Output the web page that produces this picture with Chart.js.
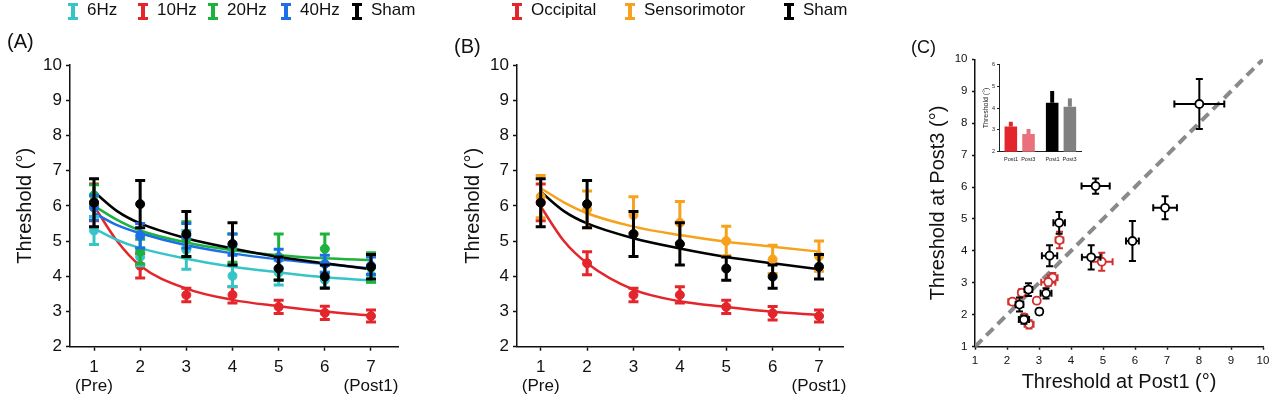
<!DOCTYPE html>
<html><head><meta charset="utf-8">
<script src="https://cdn.jsdelivr.net/npm/chart.js@4.4.0/dist/chart.umd.min.js"></script>
<style>
body{margin:0;background:#fff;font-family:'Liberation Sans',Arial,Helvetica,sans-serif;color:#111}
#wrap{position:relative;width:1269px;height:401px;overflow:hidden;background:#fff}
canvas{position:absolute}
.lab{position:absolute;white-space:nowrap}
.legtxt{position:absolute;top:0;font-size:17px;line-height:20px;white-space:nowrap}
.ico{position:absolute;top:3px;width:10px;height:17px;box-sizing:border-box;border-top:3px solid;border-bottom:3px solid}
.ico i{position:absolute;left:3px;top:0;bottom:0;width:4px}
</style></head>
<body><div id="wrap">
<canvas id="cA" width="420" height="401" style="left:0;top:0"></canvas>
<canvas id="cB" width="420" height="401" style="left:440px;top:0"></canvas>
<canvas id="cC" width="389" height="401" style="left:880px;top:0"></canvas>
<canvas id="cI" width="115" height="120" style="left:970px;top:55px"></canvas>
<div class="lab" style="left:7px;top:29px;font-size:20px;line-height:24px">(A)</div>
<div class="lab" style="left:454px;top:34px;font-size:20px;line-height:24px">(B)</div>
<div class="lab" style="left:911px;top:36px;font-size:18px;line-height:22px">(C)</div>
</div>
<script>
// ---------------- DATA ----------------
const sessions = [1, 2, 3, 4, 5, 6, 7];
const sessionLabels = [['1', '(Pre)'], '2', '3', '4', '5', '6', ['7', '(Post1)']];
const fitX = [1, 1.5, 2, 3, 4, 5, 6, 7];

const hz6Mean = [5.3, 4.55, 4.75, 4.01, 4.1, 3.9, 4.04];
const hz6Err  = [0.4, 0.25, 0.55, 0.3, 0.35, 0.22, 0.2];
const hz6Fit  = [5.36, 5.03, 4.8, 4.5, 4.27, 4.11, 3.97, 3.88];

const hz10Mean = [6.1, 4.3, 3.47, 3.47, 3.13, 2.96, 2.87];
const hz10Err  = [0.52, 0.35, 0.19, 0.23, 0.19, 0.19, 0.17];
const hz10Fit  = [6.0, 5.0, 4.3, 3.65, 3.33, 3.15, 3.0, 2.88];

const hz20Mean = [6.3, 4.7, 5.05, 4.8, 4.55, 4.78, 4.25];
const hz20Err  = [0.3, 0.35, 0.5, 0.4, 0.65, 0.42, 0.42];
const hz20Fit  = [6.0, 5.6, 5.3, 4.96, 4.74, 4.6, 4.51, 4.46];

const hz40Mean = [5.95, 5.15, 5.15, 4.9, 4.5, 4.35, 4.3];
const hz40Err  = [0.35, 0.35, 0.35, 0.3, 0.27, 0.25, 0.25];
const hz40Fit  = [5.8, 5.45, 5.22, 4.88, 4.65, 4.48, 4.35, 4.22];

const shamMean = [6.09, 6.05, 5.2, 4.92, 4.22, 3.99, 4.27];
const shamErr  = [0.68, 0.67, 0.64, 0.6, 0.33, 0.33, 0.35];
const shamFit  = [6.4, 5.85, 5.5, 5.08, 4.79, 4.55, 4.37, 4.2];

const occMean = [6.1, 4.37, 3.47, 3.47, 3.13, 2.95, 2.87];
const occErr  = [0.52, 0.33, 0.19, 0.23, 0.19, 0.19, 0.17];
const occFit  = [5.98, 5.0, 4.37, 3.62, 3.29, 3.13, 2.99, 2.9];

const smMean = [6.26, 5.9, 5.74, 5.52, 5.0, 4.48, 4.57];
const smErr  = [0.6, 0.52, 0.52, 0.6, 0.42, 0.4, 0.43];
const smFit  = [6.5, 6.1, 5.79, 5.41, 5.17, 4.98, 4.84, 4.7];

// Panel C: individual thresholds Post1 (x) vs Post3 (y)
const shamPost1    = [8.01, 4.77, 6.94, 5.92, 3.63, 3.33, 4.63, 2.67, 3.22, 2.39, 3.01, 2.53];
const shamPost3    = [8.6, 6.03, 5.35, 4.31, 4.88, 3.85, 3.8, 2.79, 2.67, 2.32, 2.1, 1.85];
const shamPost1Err = [0.78, 0.44, 0.37, 0.2, 0.18, 0.24, 0.29, 0.12, 0.17, 0.12, 0.06, 0.16];
const shamPost3Err = [0.78, 0.24, 0.36, 0.63, 0.34, 0.33, 0.38, 0.2, 0.16, 0.22, 0.09, 0.13];
const occPost1    = [3.64, 3.43, 3.29, 2.46, 2.17, 2.93, 2.54, 2.69, 4.96];
const occPost3    = [4.34, 3.16, 3.02, 2.69, 2.41, 2.44, 1.92, 1.7, 3.66];
const occPost1Err = [0.12, 0.15, 0.22, 0.1, 0.13, 0.07, 0.08, 0.14, 0.34];
const occPost3Err = [0.26, 0.15, 0.12, 0.12, 0.09, 0.07, 0.1, 0.13, 0.28];
const identityRange = [1, 10];

// Inset: group means
const insetGroups = ['Occipital', 'Sham'];
const insetTickLabel = 'Post1  Post3';
const insetPost1 = [3.15, 4.24];
const insetPost1Err = [0.22, 0.54];
const insetPost3 = [2.81, 4.06];
const insetPost3Err = [0.23, 0.38];

// ---------------- STYLE ----------------
const C = {cyan:'#35c5c8', red:'#e3262c', green:'#1cb23c', blue:'#1c6fe6', black:'#000000', orange:'#f6a21c',
           redC:'#d2302f', pink:'#e9717d', gray:'#808080', axis:'#111'};
Chart.defaults.font.family = "'Liberation Sans', Arial, Helvetica, sans-serif";
Chart.defaults.color = '#111';
Chart.defaults.animation = false;

const errorBars = {
  id: 'errorBars',
  beforeDatasetDraw(chart, args) {
    const ds = chart.data.datasets[args.index];
    if (!ds.yErr && !ds.xErr) return;
    const xs = chart.scales.x, ys = chart.scales.y, ctx = chart.ctx;
    ctx.save();
    ctx.strokeStyle = ds.errColor; ctx.lineWidth = ds.errWidth; ctx.lineCap = 'butt';
    const h = ds.capHalf;
    ds.data.forEach((p, i) => {
      const px = xs.getPixelForValue(p.x), py = ys.getPixelForValue(p.y);
      ctx.beginPath();
      if (ds.yErr) {
        const y1 = ys.getPixelForValue(p.y + ds.yErr[i]), y2 = ys.getPixelForValue(p.y - ds.yErr[i]);
        ctx.moveTo(px, y1); ctx.lineTo(px, y2);
        ctx.moveTo(px - h, y1); ctx.lineTo(px + h, y1);
        ctx.moveTo(px - h, y2); ctx.lineTo(px + h, y2);
      }
      if (ds.xErr) {
        const x1 = xs.getPixelForValue(p.x - ds.xErr[i]), x2 = xs.getPixelForValue(p.x + ds.xErr[i]);
        ctx.moveTo(x1, py); ctx.lineTo(x2, py);
        ctx.moveTo(x1, py - h); ctx.lineTo(x1, py + h);
        ctx.moveTo(x2, py - h); ctx.lineTo(x2, py + h);
      }
      ctx.stroke();
    });
    ctx.restore();
  }
};

const upErrorBars = {
  id: 'upErrorBars',
  afterDatasetDraw(chart, args) {
    const ds = chart.data.datasets[args.index];
    if (!ds.upErr) return;
    const ys = chart.scales.y, ctx = chart.ctx;
    ctx.save(); ctx.lineWidth = 4;
    args.meta.data.forEach((bar, i) => {
      ctx.strokeStyle = ds.backgroundColor[i];
      ctx.beginPath();
      ctx.moveTo(bar.x, ys.getPixelForValue(ds.data[i]));
      ctx.lineTo(bar.x, ys.getPixelForValue(ds.data[i] + ds.upErr[i]));
      ctx.stroke();
    });
    ctx.restore();
  }
};

const tickGrid = (len) => ({drawOnChartArea:false, drawTicks:true, tickLength:len, tickColor:C.axis, tickWidth:1.5});
const border = {display:true, color:C.axis, width:1.5};

function timeChart(id, series, xMin, xMax, yW, padR, titlePad) {
  const datasets = [];
  series.forEach((s, k) => {
    datasets.push({data: fitX.map((x, i) => ({x, y: s.fit[i]})), showLine:true, borderColor:s.color,
      borderWidth:2.5, pointRadius:0, cubicInterpolationMode:'monotone', order:200 - k});
    datasets.push({data: sessions.map((x, i) => ({x, y: s.mean[i]})), showLine:false, backgroundColor:s.color,
      borderColor:s.color, pointRadius:4.5, pointBorderWidth:1, yErr:s.err, errColor:s.color, errWidth:3,
      capHalf:5, order:100 - k});
  });
  return new Chart(document.getElementById(id), {
    type:'scatter',
    data:{datasets},
    plugins:[errorBars],
    options:{
      responsive:false, animation:false,
      layout:{padding:{top:65, right:padR, left:0, bottom:0}},
      plugins:{legend:{display:false}, tooltip:{enabled:false}},
      scales:{
        x:{type:'linear', min:xMin, max:xMax,
           afterBuildTicks(s){ s.ticks = sessions.map(v => ({value:v})); },
           ticks:{font:{size:17, lineHeight:1.1}, padding:7.5, maxRotation:0, autoSkip:false, color:'#111',
                  callback(v){ return sessionLabels[sessions.indexOf(v)]; }},
           grid:tickGrid(4), border,
           afterFit(s){ s.height = 54.3; }},
        y:{min:2, max:10,
           ticks:{stepSize:1, font:{size:17}, padding:4, color:'#111'},
           grid:tickGrid(4), border,
           title:{display:true, text:'Threshold (°)', font:{size:20}, color:'#111', padding:{top:titlePad, bottom:0}},
           afterFit(s){ s.width = yW; }}
      }
    }
  });
}

timeChart('cA', [
  {mean:hz10Mean, err:hz10Err, fit:hz10Fit, color:C.red},
  {mean:hz6Mean, err:hz6Err, fit:hz6Fit, color:C.cyan},
  {mean:hz20Mean, err:hz20Err, fit:hz20Fit, color:C.green},
  {mean:hz40Mean, err:hz40Err, fit:hz40Fit, color:C.blue},
  {mean:shamMean, err:shamErr, fit:shamFit, color:C.black}
], 0.48, 7.585, 70, 22, 13);

timeChart('cB', [
  {mean:occMean, err:occErr, fit:occFit, color:C.red},
  {mean:smMean, err:smErr, fit:smFit, color:C.orange},
  {mean:shamMean, err:shamErr, fit:shamFit, color:C.black}
], 0.489, 7.517, 77, 17, 21.5);

// Panel C
new Chart(document.getElementById('cC'), {
  type:'scatter',
  data:{datasets:[
    {data: identityRange.map(v => ({x:v, y:v})), showLine:true, borderColor:'#8a8a8a', borderWidth:4,
     borderDash:[10,6], pointRadius:0, order:100},
    {data: occPost1.map((x, i) => ({x, y:occPost3[i]})), showLine:false, backgroundColor:'#fff',
     borderColor:C.redC, pointRadius:4, pointBorderWidth:1.8, xErr:occPost1Err, yErr:occPost3Err,
     errColor:C.redC, errWidth:2, capHalf:3.5, order:20},
    {data: shamPost1.map((x, i) => ({x, y:shamPost3[i]})), showLine:false, backgroundColor:'#fff',
     borderColor:'#000', pointRadius:4, pointBorderWidth:1.8, xErr:shamPost1Err, yErr:shamPost3Err,
     errColor:'#000', errWidth:2, capHalf:3.5, order:10}
  ]},
  plugins:[errorBars],
  options:{
    responsive:false, animation:false,
    layout:{padding:{top:59.3, right:6, left:0, bottom:0}},
    plugins:{legend:{display:false}, tooltip:{enabled:false}},
    scales:{
      x:{type:'linear', min:1, max:10, ticks:{stepSize:1, font:{size:11.5}, padding:4, maxRotation:0, color:'#111'},
         grid:tickGrid(3), border,
         title:{display:true, text:'Threshold at Post1 (°)', font:{size:20}, color:'#111', padding:{top:0, bottom:7}},
         afterFit(s){ s.height = 54.3; s.paddingRight = 0; s.paddingLeft = 0; }},
      y:{min:1, max:10, ticks:{stepSize:1, font:{size:11.5}, padding:4.5, color:'#111'},
         grid:tickGrid(3), border,
         title:{display:true, text:'Threshold at Post3 (°)', font:{size:20}, color:'#111', padding:{top:46, bottom:0}},
         afterFit(s){ s.width = 95; }}
    }
  }
});

// Inset
new Chart(document.getElementById('cI'), {
  type:'bar',
  data:{labels:insetGroups, datasets:[
    {label:'Post1', data:insetPost1, upErr:insetPost1Err, backgroundColor:[C.red, '#000'],
     categoryPercentage:0.856, barPercentage:0.71},
    {label:'Post3', data:insetPost3, upErr:insetPost3Err, backgroundColor:[C.pink, C.gray],
     categoryPercentage:0.856, barPercentage:0.71}
  ]},
  plugins:[upErrorBars],
  options:{
    responsive:false, animation:false,
    layout:{padding:{top:9.3, right:3.3, left:0, bottom:0}},
    plugins:{legend:{display:false}, tooltip:{enabled:false}},
    scales:{
      x:{ticks:{font:{size:5.5}, padding:4, color:'#222', callback(){ return insetTickLabel; }},
         grid:{drawOnChartArea:false, drawTicks:false}, border:{display:true, color:'#222', width:1},
         afterFit(s){ s.height = 23.3; }},
      y:{min:2, max:6, ticks:{stepSize:1, font:{size:5.5}, padding:2, color:'#222'},
         grid:{drawOnChartArea:false, drawTicks:true, tickLength:2, tickColor:'#222', tickWidth:1},
         border:{display:true, color:'#222', width:1},
         title:{display:true, text:'Threshold (°)', font:{size:7}, color:'#222', padding:{top:11.8, bottom:0}},
         afterFit(s){ s.width = 29; }}
    }
  }
});

// Legends (HTML)
const legendA = {names:['6Hz','10Hz','20Hz','40Hz','Sham'], colors:[C.cyan, C.red, C.green, C.blue, C.black], at:[73,143,213,286,357]};
const legendB = {names:['Occipital','Sensorimotor','Sham'], colors:[C.red, C.orange, C.black], at:[517,630,789]};
const wrap = document.getElementById('wrap');
[legendA, legendB].forEach(L => {
  L.names.forEach((n, i) => {
    const ico = document.createElement('div');
    ico.className = 'ico';
    ico.style.left = (L.at[i] - 5) + 'px';
    ico.style.borderColor = L.colors[i];
    const bar = document.createElement('i');
    bar.style.background = L.colors[i];
    ico.appendChild(bar);
    wrap.appendChild(ico);
    const t = document.createElement('div');
    t.className = 'legtxt';
    t.style.left = (L.at[i] + 14) + 'px';
    t.textContent = n;
    wrap.appendChild(t);
  });
});
</script>
</body></html>
